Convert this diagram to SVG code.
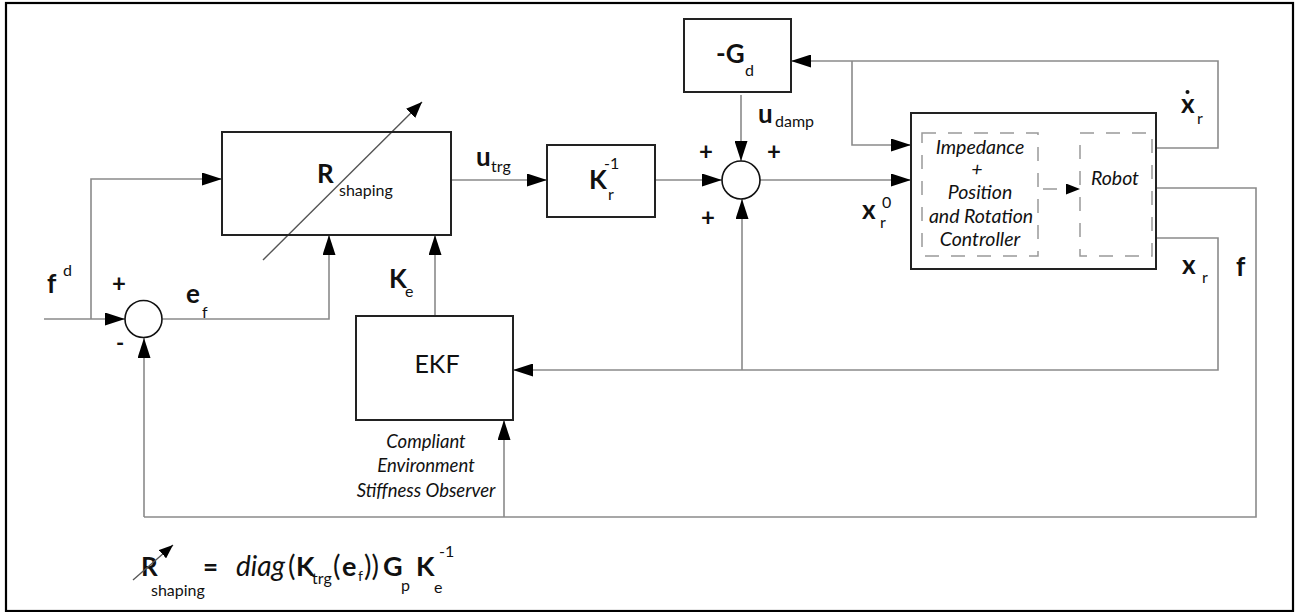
<svg xmlns="http://www.w3.org/2000/svg" width="1297" height="612" viewBox="0 0 1297 612">
<defs>
<marker id="ah" markerUnits="userSpaceOnUse" markerWidth="20" markerHeight="13" refX="20" refY="6.5" orient="auto">
<path d="M0,0 L20,6.5 L0,13 z" fill="#000"/>
</marker>
<marker id="ahs" markerUnits="userSpaceOnUse" markerWidth="16" markerHeight="13" refX="16" refY="6.5" orient="auto">
<path d="M0,0 L16,6.5 L0,13 z" fill="#000"/>
</marker>
<marker id="ahd" markerUnits="userSpaceOnUse" markerWidth="14" markerHeight="11" refX="14" refY="5.5" orient="auto">
<path d="M0,0 L14,5.5 L0,11 z" fill="#000"/>
</marker>
</defs>
<style>
text{font-family:Lato,"Liberation Sans",sans-serif;fill:#111}
.b{font-weight:bold}
.big{font-size:26px}
.sub{font-size:16px}
.it{font-style:italic}
.box{fill:#fff;stroke:#222;stroke-width:2}
.dash{fill:none;stroke:#999;stroke-width:1.5;stroke-dasharray:14 12}
.ln{fill:none;stroke:#8a8a8a;stroke-width:1.6}
.arr{marker-end:url(#ah)}
.sum{fill:#fff;stroke:#111;stroke-width:1.6}
.pl{font-size:24px;font-weight:bold;text-anchor:middle}
</style>
<rect x="0" y="0" width="1297" height="612" fill="#fff"/>
<rect x="6" y="3" width="1287" height="608" fill="none" stroke="#000" stroke-width="2.2"/>

<g id="connectors">
<path class="ln arr" d="M44,319 H125"/>
<path class="ln arr" d="M91,319 V179 H222"/>
<path class="ln arr" d="M162.5,319 H329 V235"/>
<path class="ln arr" d="M435,316 V235"/>
<path class="ln arr" d="M451,180 H547"/>
<path class="ln arr" d="M655,180 H722"/>
<path class="ln arr" d="M741,95 V161"/>
<path class="ln arr" d="M760,180 H911"/>
<path class="ln arr" d="M1156,148 H1218 V61 H791"/>
<path class="ln arr" d="M852,61 V145 H911"/>
<path class="ln arr" d="M1156,238 H1218 V370 H513"/>
<path class="ln arr" d="M742,370 V199"/>
<path class="ln" d="M1156,188 H1256 V517 H144"/>
<path class="ln arr" d="M144,517 V338"/>
<path class="ln arr" d="M504,517 V420"/>
<line x1="263" y1="260" x2="422" y2="102" stroke="#555" stroke-width="1.4" marker-end="url(#ahs)"/>
</g>

<g id="sum1">
<circle class="sum" cx="143.5" cy="319" r="18.5"/>
<text class="pl" x="119" y="292">+</text>
<text x="116" y="351" style="font-size:22px;font-weight:bold">-</text>
</g>

<g id="r-shaping">
<rect class="box" x="222" y="132" width="229" height="103" fill-opacity="0"/>
<text class="b big" x="317" y="183">R</text>
<text class="sub" x="339" y="196">shaping</text>
</g>

<g id="kr-inv">
<rect class="box" x="547" y="145" width="108" height="72"/>
<text class="b big" x="589" y="189">K</text>
<text class="sub" x="604" y="169">-1</text>
<text class="sub" x="608" y="200">r</text>
</g>

<g id="gd">
<rect class="box" x="684" y="19" width="107" height="73"/>
<text class="b big" x="716" y="63">-G</text>
<text class="sub" x="745" y="76">d</text>
</g>

<g id="sum2">
<circle class="sum" cx="741" cy="180" r="19"/>
<text class="pl" x="706" y="160">+</text>
<text class="pl" x="774" y="160">+</text>
<text class="pl" x="708" y="226">+</text>
</g>

<g id="robot-system">
<rect class="box" x="911" y="113" width="245" height="156"/>
<rect class="dash" x="922" y="133" width="116" height="123"/>
<rect class="dash" x="1080" y="133" width="72" height="123"/>
<line x1="1040" y1="189" x2="1080" y2="189" stroke="#999" stroke-width="1.5" stroke-dasharray="0 3 14 30" marker-end="url(#ahd)"/>
<g class="it" style="font-size:19.5px;text-anchor:middle">
<text x="980" y="154">Impedance</text>
<text x="977" y="176">+</text>
<text x="980" y="199">Position</text>
<text x="981" y="223">and Rotation</text>
<text x="980" y="246">Controller</text>
<text x="1115" y="185">Robot</text>
</g>
</g>

<g id="ekf">
<rect class="box" x="356" y="316" width="157" height="104"/>
<text x="437" y="373" style="font-size:25px;text-anchor:middle">EKF</text>
<g class="it" style="font-size:18.5px;text-anchor:middle">
<text x="426" y="448">Compliant</text>
<text x="426" y="472">Environment</text>
<text x="426" y="497">Stiffness Observer</text>
</g>
</g>

<g id="labels">
<text class="b big" x="47" y="293">f</text>
<text class="sub" x="63" y="276">d</text>
<text class="b big" x="186" y="303">e</text>
<text class="sub" x="202" y="318">f</text>
<text class="b big" x="389" y="288">K</text>
<text class="sub" x="405" y="297">e</text>
<text class="b big" x="476" y="166">u</text>
<text class="sub" x="491" y="172">trg</text>
<text class="b big" x="758" y="123">u</text>
<text class="sub" x="775" y="127">damp</text>
<text class="b big" x="862" y="219">x</text>
<text class="sub" x="882" y="208">0</text>
<text class="sub" x="880" y="228">r</text>
<text class="b big" x="1181" y="113">x</text>
<circle cx="1187.5" cy="92" r="2" fill="#111"/>
<text class="sub" x="1197" y="124">r</text>
<text class="b big" x="1182" y="274">x</text>
<text class="sub" x="1202" y="283">r</text>
<text class="b big" x="1236" y="276">f</text>
</g>

<g id="formula">
<text class="b big" x="141" y="576">R</text>
<line x1="133" y1="580" x2="173" y2="545" stroke="#555" stroke-width="1.3" marker-end="url(#ahd)"/>
<text class="sub" x="151" y="596">shaping</text>
<text class="b" x="203" y="576" style="font-size:26px">=</text>
<text class="it" x="236" y="576" style="font-size:28px">diag</text>
<text x="288" y="576" style="font-size:28px">(</text>
<text class="b" x="296" y="576" style="font-size:27px">K</text>
<text class="sub" x="312" y="584">trg</text>
<text x="333" y="576" style="font-size:28px">(</text>
<text class="b" x="342" y="576" style="font-size:27px">e</text>
<text x="358" y="581" style="font-size:14px">f</text>
<text x="364" y="576" style="font-size:28px">))</text>
<text class="b" x="383" y="576" style="font-size:27px">G</text>
<text class="sub" x="401" y="591">p</text>
<text class="b" x="416" y="576" style="font-size:27px">K</text>
<text class="sub" x="439" y="557">-1</text>
<text class="sub" x="434" y="593">e</text>
</g>
</svg>
